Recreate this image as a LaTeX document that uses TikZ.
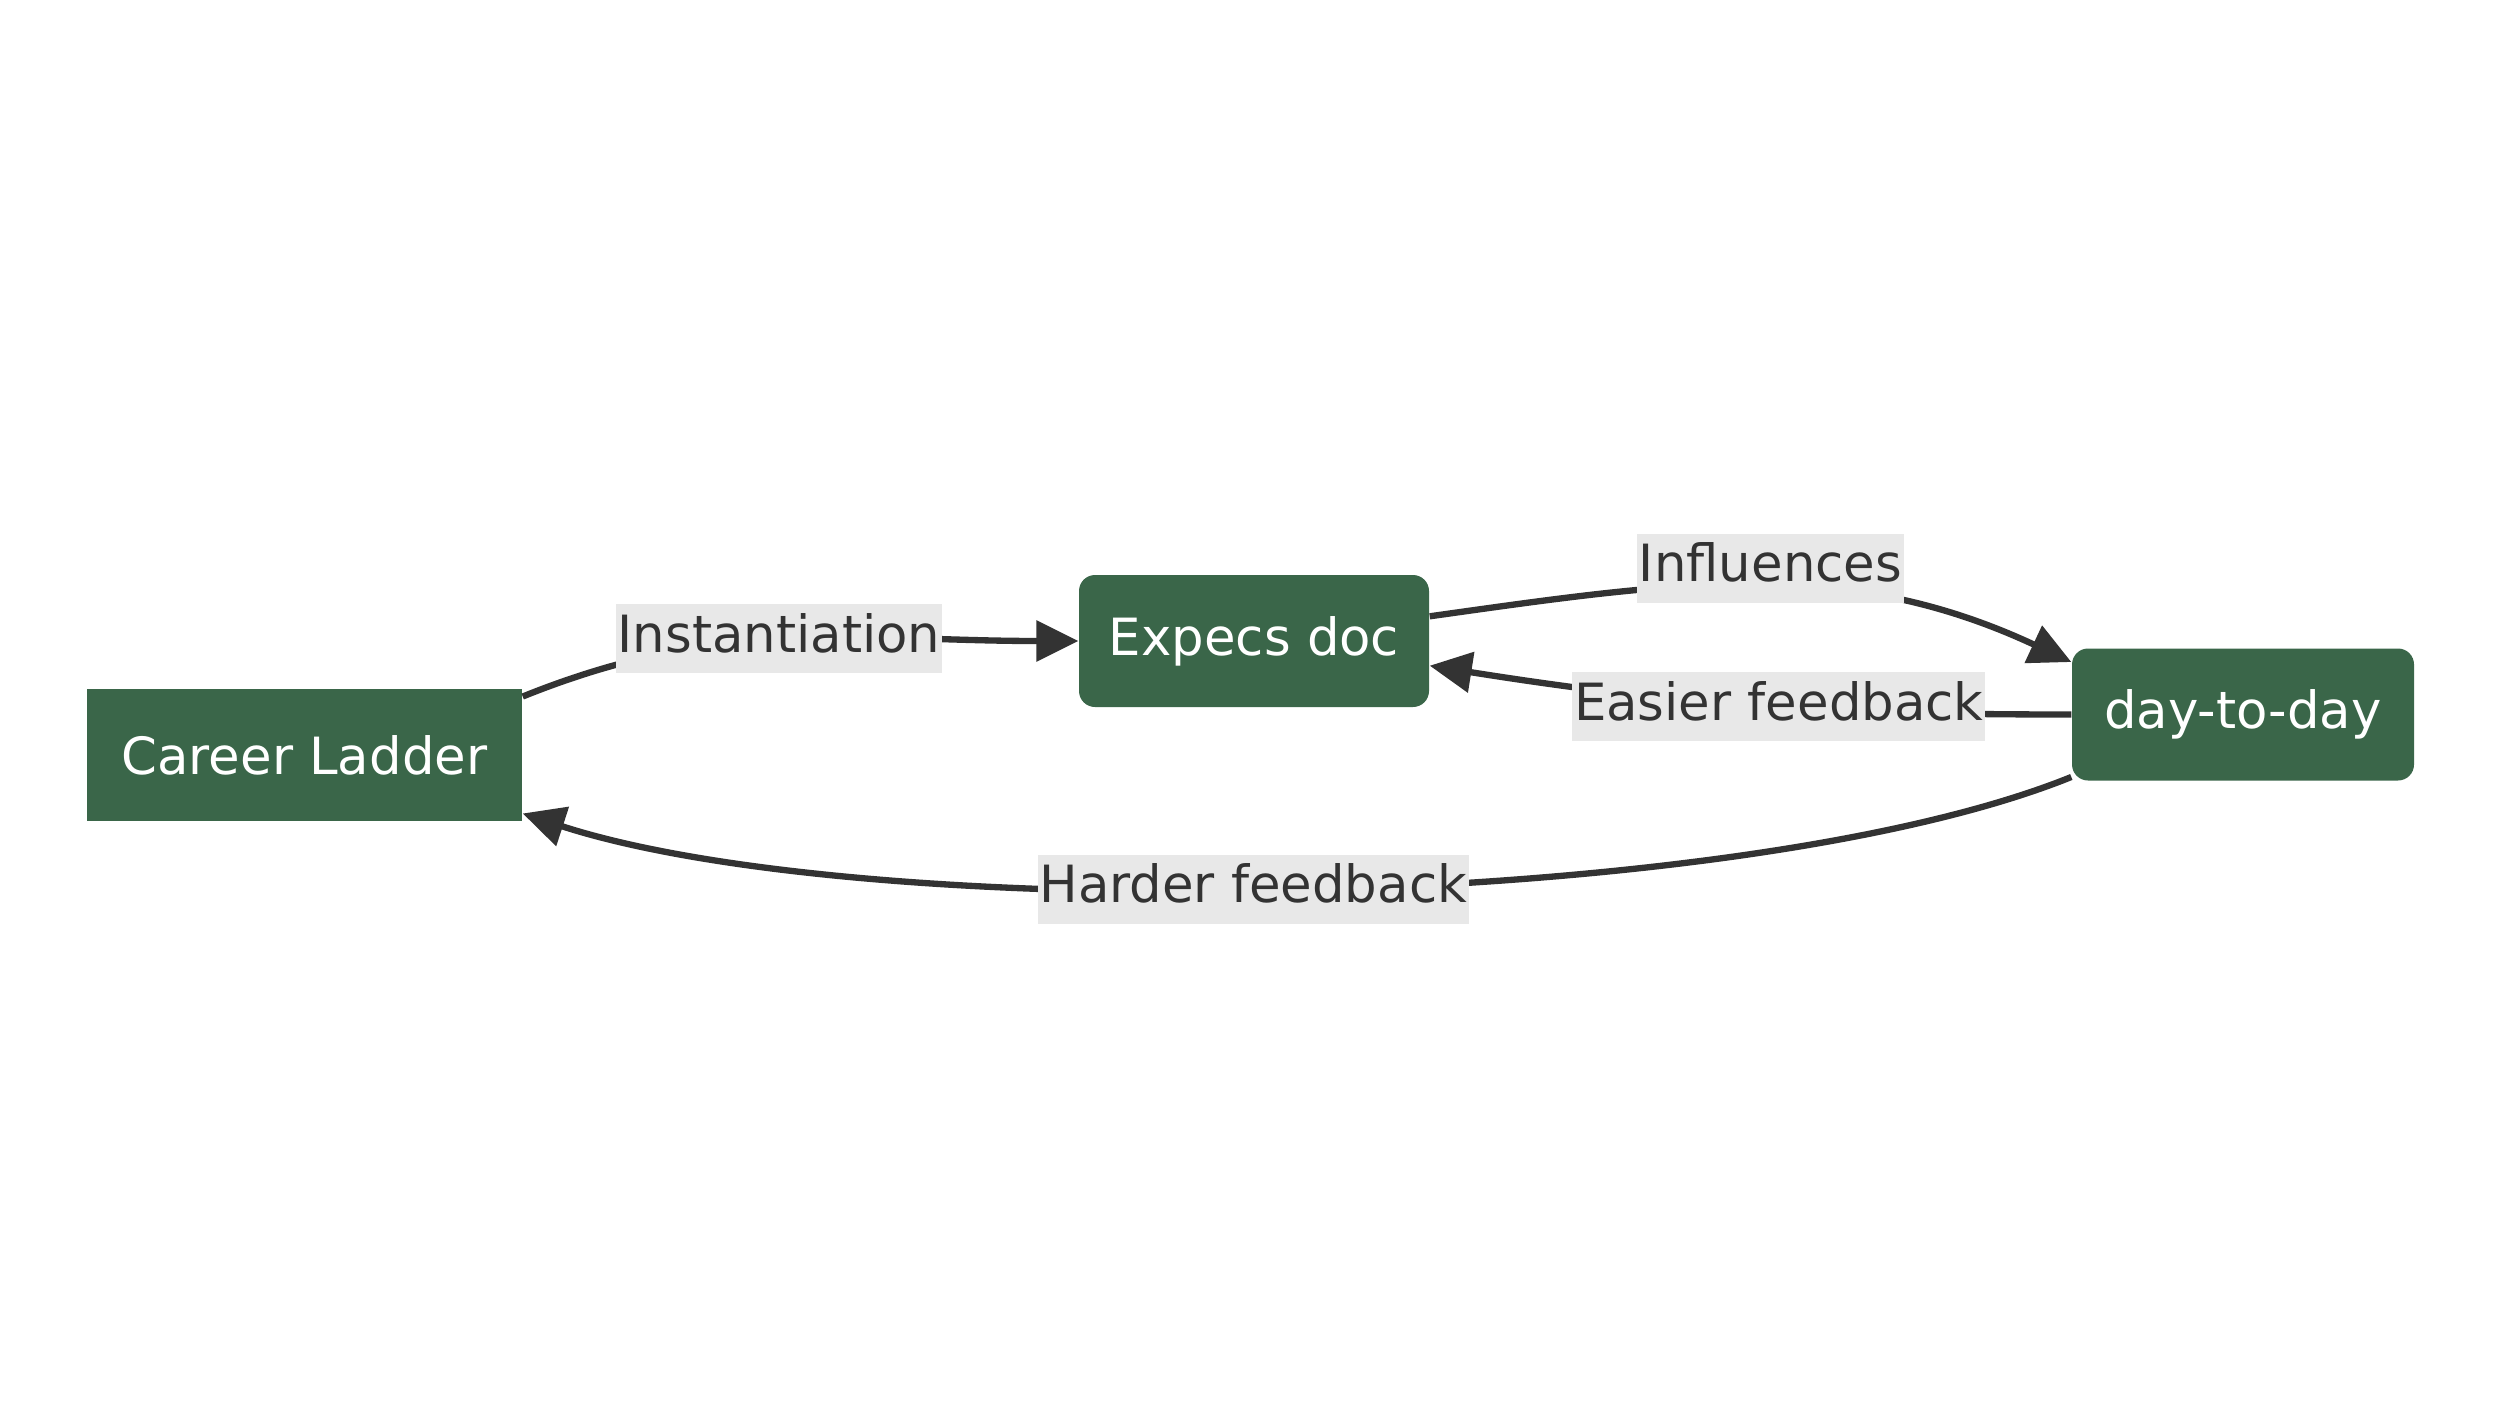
\documentclass[tikz,border=0pt]{standalone}
\usepackage{fontspec}
\setmainfont{DejaVu Sans}
\usepackage{xcolor}
\definecolor{ladderGreen}{HTML}{3A6649}
\definecolor{edgeGray}{HTML}{333333}
\definecolor{labelGray}{HTML}{E8E8E8}
\usepackage{tikz}
\usetikzlibrary{arrows.meta}

\begin{document}
\begin{tikzpicture}[>={Triangle[length=4.2mm,width=4mm]},
  box/.style={fill=ladderGreen, text=white, font=\fontsize{14.6}{17}\selectfont,
    minimum height=1.32cm, inner sep=0pt},
  roundbox/.style={box, rounded corners=1.6mm},
  edge/.style={->, draw=edgeGray, line width=1.8pt},
  lbl/.style={fill=labelGray, text=edgeGray, font=\fontsize{14.6}{17}\selectfont,
    inner xsep=0.5pt, inner ysep=0pt, text height=11pt, text depth=3.5pt,
    minimum height=0.69cm}]
  \useasboundingbox (0,0) rectangle (25.18,14.16);
  % nodes
  \node[box, minimum width=4.35cm] (ladder) at (3.045,6.61) {Career Ladder};
  \node[roundbox, minimum width=3.5cm] (expecs) at (12.54,7.75) {Expecs doc};
  \node[roundbox, minimum width=3.42cm] (daily) at (22.43,7.015) {day-to-day};
  % edges
  \draw[edge] (ladder.15) to[out=22,in=180]
    node[lbl, pos=0.47] {Instantiation} (expecs.west);
  \draw[edge] (expecs.8) to[out=8,in=155]
    node[lbl, pos=0.52, yshift=1.8mm] {Influences} (daily.163);
  \draw[edge] (daily.west) to[out=180,in=-9]
    node[lbl, pos=0.45] {Easier feedback} (expecs.-8);
  \draw[edge] (daily.200) to[out=-158,in=-18,looseness=0.6]
    node[lbl, pos=0.526] {Harder feedback} (ladder.-15);
\end{tikzpicture}
\end{document}
